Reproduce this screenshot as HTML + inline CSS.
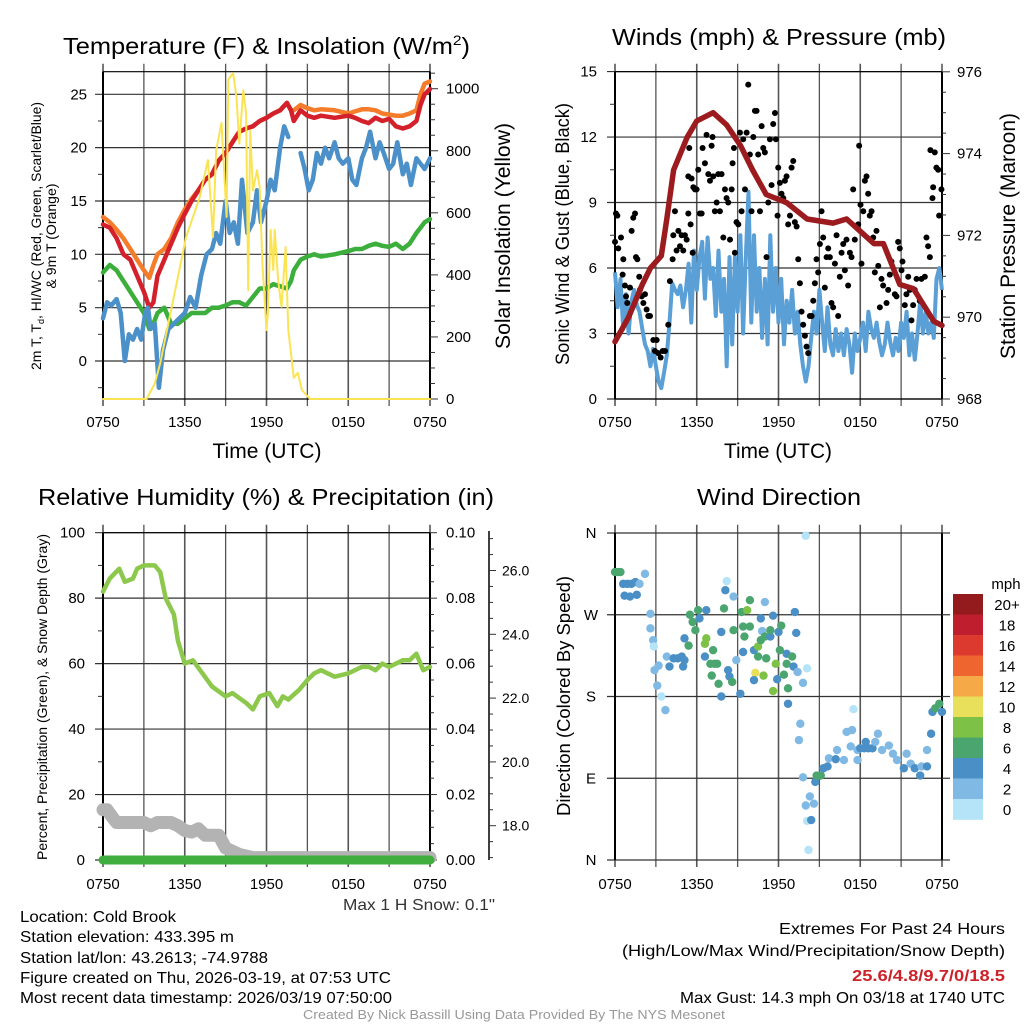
<!DOCTYPE html>
<html><head><meta charset="utf-8"><style>
html,body{margin:0;padding:0;background:#fff}
svg{display:block;font-family:"Liberation Sans",sans-serif}
</style></head><body>
<svg id="c" width="1024" height="1024" viewBox="0 0 1024 1024">
<g id="p1"></g>
<g id="p2"></g>
<g id="p3"></g>
<g id="p4"></g>
<g id="txt">
<text x="63" y="54" font-size="23" textLength="407" lengthAdjust="spacingAndGlyphs">Temperature (F) &amp; Insolation (W/m<tspan dy="-9" font-size="14">2</tspan><tspan dy="9">)</tspan></text>
<text x="779" y="45" font-size="23" text-anchor="middle" textLength="334" lengthAdjust="spacingAndGlyphs">Winds (mph) &amp; Pressure (mb)</text>
<text x="266" y="505" font-size="23" text-anchor="middle" textLength="456" lengthAdjust="spacingAndGlyphs">Relative Humidity (%) &amp; Precipitation (in)</text>
<text x="779" y="505" font-size="23" text-anchor="middle" textLength="164" lengthAdjust="spacingAndGlyphs">Wind Direction</text>
<text x="267" y="458" font-size="21" text-anchor="middle" textLength="109" lengthAdjust="spacingAndGlyphs">Time (UTC)</text>
<text x="778" y="458" font-size="21" text-anchor="middle" textLength="108" lengthAdjust="spacingAndGlyphs">Time (UTC)</text>
<text transform="translate(41,236) rotate(-90)" font-size="14" text-anchor="middle" textLength="268" lengthAdjust="spacingAndGlyphs">2m T, T<tspan font-size="9" dy="3">d</tspan><tspan dy="-3">, HI/WC (Red, Green, Scarlet/Blue)</tspan></text>
<text transform="translate(56,236) rotate(-90)" font-size="14" text-anchor="middle" textLength="105" lengthAdjust="spacingAndGlyphs">&amp; 9m T (Orange)</text>
<text transform="translate(510,236) rotate(-90)" font-size="21" text-anchor="middle" textLength="226" lengthAdjust="spacingAndGlyphs">Solar Insolation (Yellow)</text>
<text transform="translate(569,234) rotate(-90)" font-size="19" text-anchor="middle" textLength="262" lengthAdjust="spacingAndGlyphs">Sonic Wind &amp; Gust (Blue, Black)</text>
<text transform="translate(1015,236) rotate(-90)" font-size="21" text-anchor="middle" textLength="246" lengthAdjust="spacingAndGlyphs">Station Pressure (Maroon)</text>
<text transform="translate(47,697) rotate(-90)" font-size="14" text-anchor="middle" textLength="326" lengthAdjust="spacingAndGlyphs">Percent, Precipitation (Green), &amp; Snow Depth (Gray)</text>
<text transform="translate(570,696) rotate(-90)" font-size="18" text-anchor="middle" textLength="240" lengthAdjust="spacingAndGlyphs">Direction (Colored By Speed)</text>
<text x="495" y="910" font-size="16" text-anchor="end" textLength="152" lengthAdjust="spacingAndGlyphs" fill="#333">Max 1 H Snow: 0.1"</text>
<text x="20" y="922" font-size="16" textLength="156" lengthAdjust="spacingAndGlyphs">Location: Cold Brook</text>
<text x="20" y="942" font-size="16" textLength="214" lengthAdjust="spacingAndGlyphs">Station elevation: 433.395 m</text>
<text x="20" y="963" font-size="16" textLength="248" lengthAdjust="spacingAndGlyphs">Station lat/lon: 43.2613; -74.9788</text>
<text x="20" y="983" font-size="16" textLength="371" lengthAdjust="spacingAndGlyphs">Figure created on Thu, 2026-03-19, at 07:53 UTC</text>
<text x="20" y="1003" font-size="16" textLength="372" lengthAdjust="spacingAndGlyphs">Most recent data timestamp: 2026/03/19 07:50:00</text>
<text x="1005" y="934" font-size="16" text-anchor="end" textLength="226" lengthAdjust="spacingAndGlyphs">Extremes For Past 24 Hours</text>
<text x="1005" y="956" font-size="16" text-anchor="end" textLength="383" lengthAdjust="spacingAndGlyphs">(High/Low/Max Wind/Precipitation/Snow Depth)</text>
<text x="1005" y="981" font-size="16" font-weight="bold" fill="#cc2229" text-anchor="end" textLength="153" lengthAdjust="spacingAndGlyphs">25.6/4.8/9.7/0/18.5</text>
<text x="1005" y="1003" font-size="16" text-anchor="end" textLength="325" lengthAdjust="spacingAndGlyphs">Max Gust: 14.3 mph On 03/18 at 1740 UTC</text>
<text x="514" y="1019" font-size="13" fill="#999" text-anchor="middle" textLength="422" lengthAdjust="spacingAndGlyphs">Created By Nick Bassill Using Data Provided By The NYS Mesonet</text>
</g>
</svg>
<script>
// ---------- DATA ----------
const xTickLabels = ["0750","1350","1950","0150","0750"];
const tempT = [0,0.5,1,1.5,2,2.5,3,3.4,3.7,4,4.5,5,5.5,6,6.5,7,7.5,8,8.5,9,9.5,10,10.5,11,11.5,12,12.5,13,13.5,13.8,14,14.5,15,15.5,16,17,18,18.5,19,19.5,20,20.5,21,21.5,22,22.5,23,23.3,23.6,24];
const tempRed = [12.8,12.5,11.5,10,9.5,8,6.5,5,5.5,8,9.5,11,12.5,13.8,15,16,17,17.5,18.8,19.5,20.5,21.5,21.8,22,22.5,22.8,23.2,23.5,24.2,23.5,22.5,23.5,23,22.8,23,22.8,23,22.8,22.5,22.3,22.8,22.5,22.7,22,21.8,22,22.5,24,25,25.5];
const temp9m = [13.5,13,12.3,11.5,10.5,9.5,8.5,7.8,9,10,10.5,11.5,13,14.2,15.2,16,17,17.5,18.8,19.5,20.5,21.5,21.8,22,22.5,22.8,23.2,23.5,24.2,23.5,23.5,24,23.7,23.5,23.6,23.5,23.2,23.4,23.6,23.6,23.5,23.2,23.1,23,23,23.2,23.5,25,26,26.2];
const hiwcGreen = [8.3,9,8.5,7.5,6.5,5.5,4.5,3,3.5,4.5,5,3.5,3.5,4,4.5,4.5,4.5,5,5,5.2,5.5,5.5,5.2,6,6.8,6.8,7.2,7,6.8,7.5,8.5,9.5,9.8,10,9.8,10,10.3,10.5,10.5,10.8,11,10.8,10.7,11,10.5,11,12,12.5,13,13.3];
const dewT1 = [0,0.3,0.6,1,1.3,1.6,1.9,2.2,2.5,2.8,3.1,3.3,3.5,3.8,4.1,4.4,4.8,5.2,5.6,6,6.4,6.8,7.2,7.6,8,8.3,8.6,9,9.3,9.6,9.9,10.2,10.6,11,11.3,11.6,12,12.3,12.6,13,13.3,13.6];
const dewV1 = [4,5.5,5.2,5.8,4.5,0,2.5,2,3,2,4.5,5,3,3.5,-2.5,1,3,3.5,4,4.5,6,5,8,10,10.5,12,11,15,12,13,11,17,12,13,16,13,15,17,16,20,22,21];
const dewT2 = [14.5,14.8,15.1,15.4,15.7,16,16.3,16.6,17,17.3,17.6,18,18.3,18.6,19,19.3,19.6,20,20.3,20.6,21,21.3,21.6,22,22.3,22.6,23,23.3,23.6,24];
const dewV2 = [19.5,18,16,17,19.5,18.5,20,19,20.5,19,18.5,19,17,16.5,19,20,21.5,19,20.5,19.5,18,18.5,20.5,17.5,18.5,16.5,19,18.5,18,19];
const solarT = [0,3.2,3.8,4.2,4.7,5.7,6.1,7.1,7.7,8.07,8.3,8.7,9.07,9.2,9.55,9.8,10,10.3,10.5,10.66,10.8,11,11.3,11.5,11.7,12,12.1,12.3,12.5,12.6,12.85,13.1,13.4,13.6,14,14.3,14.6,15.2,24];
const solarV = [0,0,50,115,222,437,522,650,770,522,800,890,587,1030,1050,973,823,995,920,350,866,672,737,683,437,222,277,545,415,545,383,297,490,222,68,84,29,0,0];
const windT = [0,0.2,0.4,0.6,0.8,1,1.2,1.4,1.6,1.8,2,2.2,2.4,2.6,2.8,3,3.2,3.4,3.6,3.8,4,4.2,4.4,4.6,4.8,5,5.2,5.4,5.6,5.8,6,6.2,6.4,6.6,6.8,7,7.2,7.4,7.6,7.8,8,8.2,8.4,8.6,8.8,9,9.2,9.4,9.6,9.8,10,10.2,10.4,10.6,10.8,11,11.2,11.4,11.6,11.8,12,12.2,12.4,12.6,12.8,13,13.2,13.4,13.6,13.8,14,14.2,14.4,14.6,14.8,15,15.2,15.4,15.6,15.8,16,16.2,16.4,16.6,16.8,17,17.2,17.4,17.6,17.8,18,18.2,18.4,18.6,18.8,19,19.2,19.4,19.6,19.8,20,20.2,20.4,20.6,20.8,21,21.2,21.4,21.6,21.8,22,22.2,22.4,22.6,22.8,23,23.2,23.4,23.6,23.8,24];
const windV = [5.8,4.2,5.5,3.2,4.8,3.0,4.5,5.0,4.3,4.0,3.2,2.5,2.2,1.5,2.3,1.5,0.8,0.5,1.2,2.0,3.5,5.3,5.0,4.8,5.2,4.2,5.0,6.2,3.5,6.8,5.0,6.5,7.2,4.6,7.4,5.5,6.0,3.8,6.8,4.0,5.5,1.5,6.5,2.5,6.5,4.0,7.5,3.0,6.5,9.5,3.5,7.5,4.0,6.0,2.8,5.5,2.5,7.5,4.0,6.0,3.5,5.5,2.5,4.5,3.5,5.0,3.0,4.0,2.5,1.5,0.8,1.5,2.8,4.0,3.0,5.0,3.5,2.2,4.2,2.5,2.0,3.2,2.2,3.0,2.0,3.2,2.5,1.2,3.0,2.2,2.8,3.5,2.2,4.0,3.2,2.8,3.5,2.6,2.0,2.5,3.5,2.6,2.0,2.8,2.2,3.5,2.8,4.0,2.0,3.0,1.8,3.0,4.5,3.0,4.0,3.0,3.5,2.8,5.5,6.0,5.0];
const gustT = [0,.07,.17,.24,.44,.56,.61,.73,.81,.9,1.1,1.22,1.34,1.47,1.54,1.64,1.78,1.83,1.96,2.08,2.2,2.32,2.44,2.57,2.81,2.93,3.06,3.18,3.35,3.5,3.67,3.91,4.03,4.23,4.28,4.4,4.52,4.65,4.77,4.89,5.01,5.13,5.26,5.38,5.45,5.55,5.7,5.38,5.62,5.75,5.87,5.99,6.11,6.23,6.36,6.43,6.6,6.72,6.85,6.97,7.09,7.16,7.21,7.33,7.46,7.58,7.7,7.82,7.95,8.07,8.19,8.31,8.44,8.56,8.63,8.73,8.8,8.92,9.05,9.17,9.29,9.41,9.54,9.66,9.78,9.9,10.02,10.15,10.27,10.39,10.51,10.64,10.76,10.88,11,11.12,11.25,11.37,11.49,11.61,11.74,11.81,11.93,11.98,12.1,12.22,12.35,12.47,12.59,12.71,12.84,12.96,13.08,13.2,13.33,13.45,13.57,13.69,13.81,13.94,14.06,14.18,14.3,14.43,14.55,14.67,14.79,14.91,15.04,15.16,15.28,15.4,15.53,15.65,15.77,15.89,16.01,16.14,16.26,16.38,16.5,16.63,16.75,16.87,16.99,17.11,17.24,17.36,17.48,17.6,17.85,17.92,18.02,18.09,18.22,18.34,18.46,18.58,18.7,18.83,18.95,19.07,19.19,19.32,19.44,19.56,19.68,19.93,20.05,20.17,20.29,20.54,20.66,20.78,20.9,21.03,21.1,21.27,21.39,21.52,21.64,21.76,21.88,22.0,22.13,22.37,22.49,22.74,22.86,22.98,23.11,23.15,23.3,23.35,23.47,23.59,23.72,23.79,23.96];
const gustV = [7.2,8.5,8.4,6.9,7.4,5.7,6.4,5.2,4.7,4.4,5.1,7.7,8.3,8.5,6.5,6.4,5.6,5,4.7,4.4,4.8,4.1,3.8,3.8,2.7,2.2,2.7,2.1,1.9,2.2,2.2,3.4,5.4,6.4,7.5,8.6,6.8,7.7,7.0,7.5,6.8,7.5,7.3,8.5,11.5,8,6.7,10.2,10.1,9.7,9.6,9.6,10.5,8.5,8.5,11.5,10.8,12.1,10.3,10,11.6,12,10.2,8.6,9,10.3,8.6,10.3,7.4,9.6,9.2,9,7.3,9.6,10.8,11.5,6.7,8.1,8,12.2,8.6,11.9,9.6,12.2,14.4,11.2,8.6,12,13.2,13.2,11.2,8.6,12.5,11.5,11.3,6.5,9,11.9,9.8,12.6,13.1,11.9,8.4,10.6,9.9,9.4,9.2,10,10.2,8,8.4,10.6,10.9,8.1,7.9,6.4,5.3,4,3.4,2.9,2.4,2.1,3.8,3.8,4.5,5.3,6.4,5.8,7.1,8.6,7.4,5.1,6.5,6.9,6.5,4.4,4.2,6.2,7.5,3.8,5.6,6.7,7.1,5.9,7.3,5.2,6.7,6.5,9.6,7.3,8,11.6,8.9,6.2,8.6,10,10.2,9.4,8.4,8.6,7.4,5.8,7.7,6.1,4.2,5.5,5.2,4.4,5,5.7,6.3,4.8,4.7,7.2,6.9,5.9,6.3,4.3,4.8,5.6,5,3.6,4.3,5,5.5,4.5,5.5,5.6,7.4,7,6.5,11.4,9.2,9.7,11.3,10.6,10.5,8.4,9.6];
const presT = [0,1,2,2.6,3.4,3.8,4.3,5.3,6,7.2,8.2,9.2,10.1,11.1,12.6,14.1,16,17,18,19,19.7,20.9,21.9,23.4,24];
const presV = [969.4,970,970.8,971.2,971.5,972.4,973.6,974.4,974.8,975,974.7,974.2,973.6,973.0,972.8,972.4,972.3,972.4,972.1,971.8,971.8,970.8,970.7,969.9,969.8];
const rhT = [0,0.5,1.2,1.6,2.2,2.5,3,3.8,4.2,4.6,5.2,5.5,6,6.6,7.3,8,9,9.5,10.5,11,11.5,12.2,12.8,13.2,13.6,14.4,15,15.5,16,17,18,19,19.5,20,20.5,21,22,22.5,23,23.5,24];
const rhV = [82,86,89,85,86,89,90,90,88,80,75,67,60,61,57,53,50,51,48,46,50,51,47,50,49,52,55,57,58,56,57,59,59,58,60,59,61,61,63,58,59];
const snowT = [0,0.3,0.8,1,3,3.5,4,5,5.5,6,6.5,7,7.5,8.5,9,9.5,10,11,24];
const snowV = [18.5,18.5,18.2,18.1,18.1,18.0,18.1,18.1,18.0,17.85,17.8,17.9,17.7,17.7,17.3,17.2,17.1,17.0,17.0];
const precipT = [0,24];
const precipV = [0,0];
const dirT = [0,0.2,0.4,0.6,0.9,1.2,1.5,1.8,0.7,1.1,1.6,2.2,2.6,2.6,2.8,2.85,2.9,3.1,3.4,3.7,3.2,3.8,4.3,4.6,4.9,5.1,4.0,5.0,5.1,5.4,5.5,5.7,5.9,6.1,6.2,6.7,6.6,6.7,6.6,7.0,7.3,7.5,7.1,7.2,7.6,7.8,8.0,8.1,8.2,8.3,8.4,8.6,7.8,8.7,8.7,8.9,9.2,9.3,9.4,9.5,9.4,9.7,9.9,9.9,10.3,10.2,10.2,10.5,10.5,10.7,10.7,10.8,10.9,11,11,11.1,11.4,11.4,11.6,11.6,11.8,11.9,12,12.1,12.2,12.4,12.6,12.7,12.6,12.7,13,13.1,13.2,13.3,13.4,13.8,13.6,13.5,14.1,14,13.8,14,14.1,14.2,14.3,14.4,14.6,14.7,14.8,15.1,15.3,15.6,15.7,16.2,16.3,16.8,17,17.4,17.5,17.3,17.8,17.8,18,18.3,18.6,18.9,18.4,19.1,19.3,19.6,20.1,20.4,20.7,21.2,21.4,21.7,22,22.4,22.5,22.9,23.2,23.3,23.5,23.8,24,22.9];
const dirV = [317,317,317,304,304,304,306,304,291,290,292,315,271,255,242,235,209,192,180,165,214,224,222,222,224,220,213,213,244,236,270,262,253,275,266,275,238,244,224,216,216,216,203,231,194,251,277,297,307,209,202,196,180,290,253,220,183,273,257,246,229,275,286,257,206,231,198,235,224,242,266,252,203,246,284,222,246,253,269,186,216,199,251,231,258,204,216,189,227,172,224,213,273,250,207,195,150,132,211,357,91,60,43,11,70,44,62,86,93,93,101,103,112,111,121,110,141,143,166,125,121,110,123,123,123,123,130,130,139,121,126,117,110,101,117,106,101,93,103,121,139,163,167,172,163,103];
const dirSpd = [6.5,6.5,6.5,4.5,4.5,4.5,4.5,2.5,4.5,4.5,4.5,2.5,2.5,2.5,2.5,0.5,2.5,2.5,0.5,2.5,2.5,2.5,4.5,4.5,4.5,4.5,4.5,4.5,4.5,6.5,6.5,6.5,6.5,6.5,4.5,4.5,8.5,8.5,4.5,6.5,6.5,6.5,6.5,6.5,6.5,4.5,6.5,4.5,0.5,4.5,4.5,6.5,4.5,2.5,6.5,2.5,4.5,6.5,6.5,6.5,4.5,8.5,6.5,6.5,10.5,4.5,4.5,8.5,6.5,6.5,4.5,2.5,8.5,6.5,2.5,6.5,4.5,6.5,4.5,8.5,8.5,4.5,4.5,6.5,6.5,6.5,6.5,6.5,4.5,4.5,6.5,4.5,4.5,4.5,2.5,2.5,2.5,2.5,0.5,0.5,2.5,2.5,0.5,0.5,2.5,4.5,2.5,4.5,6.5,6.5,4.5,4.5,2.5,4.5,2.5,2.5,2.5,2.5,0.5,2.5,2.5,2.5,4.5,4.5,4.5,4.5,4.5,2.5,2.5,2.5,2.5,2.5,2.5,4.5,2.5,2.5,4.5,4.5,2.5,2.5,4.5,4.5,6.5,6.5,4.5,4.5];
const speedLabels = ["20+","18","16","14","12","10","8","6","4","2","0"];
const speedColors = ["#931a1d","#be1e2d","#dc3a2e","#ef6530","#f6a947","#e8e05b","#7dc246","#4aa66e","#4a8fc6","#80bae4","#b5e3f8"];

// ---------- HELPERS ----------
const NS = "http://www.w3.org/2000/svg";
function mk(parent, tag, attrs){const e=document.createElementNS(NS,tag);for(const k in attrs)e.setAttribute(k,attrs[k]);parent.appendChild(e);return e;}
function pathD(ts,vs,xf,yf){return ts.map((t,i)=>(i?"L":"M")+xf(t).toFixed(1)+","+yf(vs[i]).toFixed(1)).join("");}
function txt(parent,x,y,s,size,anchor){const e=mk(parent,"text",{x:x,y:y,"font-size":size,"text-anchor":anchor||"middle"});e.textContent=s;return e;}
function hourX(x0){return h=>x0+h*327/24;}

function frame(g, x0, y0, y1, hLines, xTicks){
  const x1=x0+327;
  for(let k=0;k<=8;k++){const x=x0+k*327/8;
    const l=mk(g,"line",{x1:x,x2:x,y1:y0-8,y2:y1+7,stroke:"#555","stroke-width":k%2?1.3:1.6});
    
    }
  hLines.forEach(y=>{const l=mk(g,"line",{x1:x0-8,x2:x1,y1:y,y2:y,stroke:"#333","stroke-width":1.2});
    
    });
  mk(g,"line",{x1:x0,x2:x0,y1:y0,y2:y1,stroke:"#000","stroke-width":2});
  mk(g,"line",{x1:x1,x2:x1,y1:y0,y2:y1,stroke:"#000","stroke-width":2});
  if(xTicks){xTickLabels.forEach((s,i)=>{const t=txt(g,x0+i*327/4,xTicks,s,15);
    
    });}
}
function minorTicks(g,x,vals,yf,dir,len){vals.forEach(v=>{const y=yf(v);mk(g,"line",{x1:x,x2:x+dir*len,y1:y,y2:y,stroke:"#333","stroke-width":1});});}

// ---------- PANEL 1 ----------
(function(){
  const g=document.getElementById("p1");
  const X=hourX(103), Yt=v=>361-v*10.667, Yi=v=>399-v*0.3103;
  const ticksT=[0,5,10,15,20,25];
  frame(g,103,71.7,399,ticksT.map(Yt),427);
  const mt=[];for(let v=-2.5;v<=27;v+=2.5)if(v%5)mt.push(v);minorTicks(g,103,mt,Yt,-1,5);
  ticksT.forEach(v=>{const t=txt(g,87,Yt(v)+5,String(v),15,"end");});
  mk(g,"line",{x1:103,x2:430,y1:71.7,y2:71.7,stroke:"#000","stroke-width":1.2});
  mk(g,"line",{x1:103,x2:430,y1:399,y2:399,stroke:"#000","stroke-width":1.2});
  const ri=[];for(let v=0;v<=1050;v+=50)ri.push(v);
  ri.forEach(v=>{const y=Yi(v);mk(g,"line",{x1:430,x2:v%200?435:438,y1:y,y2:y,stroke:"#333","stroke-width":1});});
  [0,200,400,600,800,1000].forEach(v=>{const t=txt(g,446,Yi(v)+5,String(v),15,"start");});
  const s=[["temp9m-line",tempT,temp9m,"#f47c2a",Yt,4.5],["hiwc-line",tempT,hiwcGreen,"#3cae3c",Yt,4.5],["temp-line",tempT,tempRed,"#d4202a",Yt,4.5],["dewpoint-line-1",dewT1,dewV1,"#4b90c8",Yt,4.5],["dewpoint-line-2",dewT2,dewV2,"#4b90c8",Yt,4.5],["solar-line",solarT,solarV,"#fbe453",Yi,2]];
  s.forEach(([n,ts,vs,c,yf,w])=>{const p=mk(g,"path",{d:pathD(ts,vs,X,yf),fill:"none",stroke:c,"stroke-width":w,"stroke-linejoin":"round","stroke-linecap":"round"});
    
    });
})();

// ---------- PANEL 2 ----------
(function(){
  const g=document.getElementById("p2");
  const X=hourX(615), Yw=v=>399-v*21.83, Yp=v=>399-(v-968)*40.9;
  const tk=[0,3,6,9,12,15];
  frame(g,615,71.7,399,tk.map(Yw),427);
  mk(g,"line",{x1:615,x2:942,y1:71.7,y2:71.7,stroke:"#000","stroke-width":1.2});
  mk(g,"line",{x1:615,x2:942,y1:399,y2:399,stroke:"#000","stroke-width":1.2});
  const mt=[];for(let v=1.5;v<15;v+=3)mt.push(v);minorTicks(g,615,mt,Yw,-1,5);
  tk.forEach(v=>{const t=txt(g,597,Yw(v)+5,String(v),15,"end");});
  for(let v=968;v<=976.01;v+=0.5){const y=Yp(v);mk(g,"line",{x1:942,x2:(Math.round(v*2)%4===0)?950:946,y1:y,y2:y,stroke:"#333","stroke-width":1});}
  [968,970,972,974,976].forEach(v=>{const t=txt(g,957,Yp(v)+5,String(v),15,"start");});
  const w=mk(g,"path",{d:pathD(windT,windV,X,Yw),fill:"none",stroke:"#5a9fd6","stroke-width":4,"stroke-linejoin":"round"});
  
  
  gustT.forEach((t,i)=>{const c=mk(g,"circle",{cx:X(t),cy:Yw(gustV[i]),r:3,fill:"#000"});
    
    });
  const p=mk(g,"path",{d:pathD(presT,presV,X,Yp),fill:"none",stroke:"#9b1b1e","stroke-width":5.5,"stroke-linejoin":"round","stroke-linecap":"round"});
  
  
})();

// ---------- PANEL 3 ----------
(function(){
  const g=document.getElementById("p3");
  const X=hourX(103), Yr=v=>860-v*3.273, Ys=v=>825.7-(v-18)*31.9, Yq=v=>860-v*3273;
  const tk=[0,20,40,60,80,100];
  frame(g,103,532.7,860,tk.map(Yr),889);
  const mt=[];for(let v=10;v<100;v+=20)mt.push(v);minorTicks(g,103,mt,Yr,-1,5);
  tk.forEach(v=>{const t=txt(g,85,Yr(v)+5,String(v),15,"end");});
  for(let v=0;v<=0.1001;v+=0.005){const y=Yq(v);mk(g,"line",{x1:430,x2:(Math.round(v*1000)%20===0)?437:434,y1:y,y2:y,stroke:"#333","stroke-width":1});}
  [0,0.02,0.04,0.06,0.08,0.1].forEach(v=>{const t=txt(g,446,Yq(v)+5,v.toFixed(2),15,"start");});
  mk(g,"line",{x1:489,x2:489,y1:531,y2:860,stroke:"#000","stroke-width":1.5});
  for(let v=17;v<=27;v+=0.5){const y=Ys(v);if(y<531||y>860)continue;mk(g,"line",{x1:489,x2:(v%2===0)?496:493,y1:y,y2:y,stroke:"#333","stroke-width":1});}
  [18,20,22,24,26].forEach(v=>{const t=txt(g,502,Ys(v)+5,v.toFixed(1),14,"start");});
  const sn=mk(g,"path",{d:pathD(snowT,snowV,X,Ys),fill:"none",stroke:"#b3b3b3","stroke-width":13,"stroke-linejoin":"round","stroke-linecap":"round"});
  
  
  const pr=mk(g,"path",{d:pathD(precipT,precipV,X,Yq),fill:"none",stroke:"#3fae3f","stroke-width":9,"stroke-linecap":"round"});
  
  
  mk(g,"line",{x1:103,x2:430,y1:532.7,y2:532.7,stroke:"#000","stroke-width":1.2});
  const rh=mk(g,"path",{d:pathD(rhT,rhV,X,Yr),fill:"none",stroke:"#8cc84b","stroke-width":4.5,"stroke-linejoin":"round","stroke-linecap":"round"});
  
  
})();

// ---------- PANEL 4 ----------
(function(){
  const g=document.getElementById("p4");
  const X=hourX(615), Yd=v=>860-v*327/360;
  frame(g,615,532.7,860,[0,90,180,270,360].map(Yd),889);
  [0,90,180,270,360].forEach(v=>{mk(g,"line",{x1:942,x2:950,y1:Yd(v),y2:Yd(v),stroke:"#333","stroke-width":1.2});});
  ["N","E","S","W","N"].forEach((s,i)=>{const t=txt(g,591,Yd(i*90)+5,s,15);});
  function col(s){const idx=Math.min(10,Math.floor(s/2));return speedColors[10-idx];}
  dirT.forEach((t,i)=>{const c=mk(g,"circle",{cx:X(t),cy:Yd(dirV[i]),r:4.2,fill:col(dirSpd[i])});
    
    });
  const lg=mk(g,"g",{});
  
  
  txt(lg,1006,589,"mph",15);
  speedLabels.forEach((s,i)=>{const y=594+i*20.5;
    const r=mk(lg,"rect",{x:953,y:y,width:30,height:20.8,fill:speedColors[i]});
    
    
    const t=txt(lg,1007,y+16,s,15);
    
    });
})();
</script>
</body></html>
